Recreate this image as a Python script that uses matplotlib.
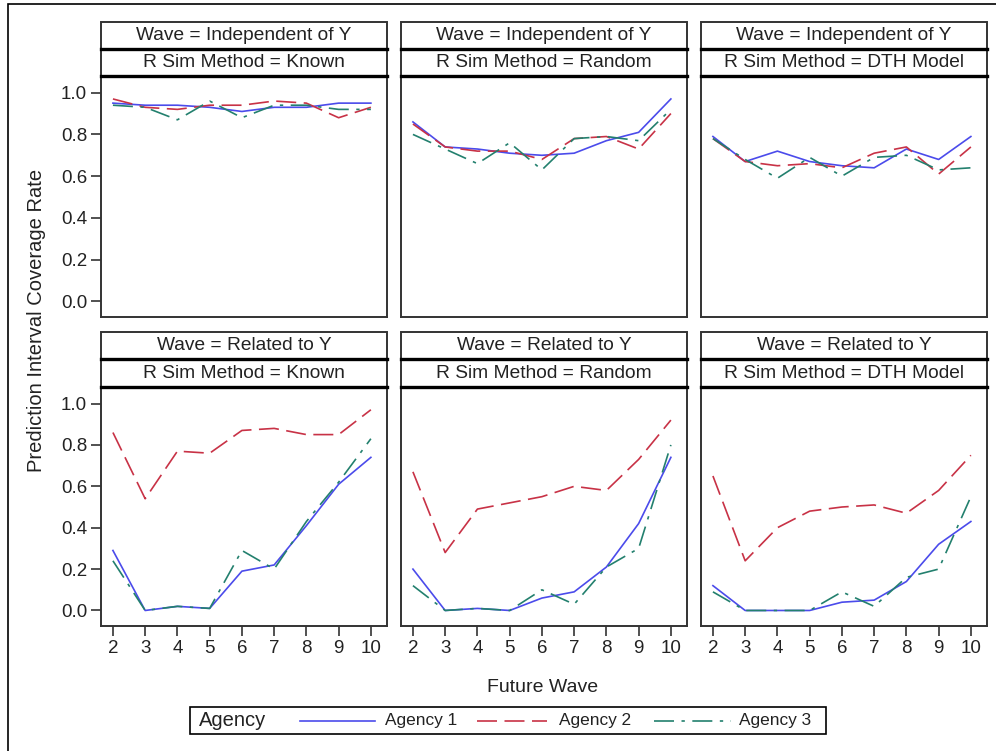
"""
Panel chart: prediction interval coverage rate vs future wave, by agency
Saves: out.png
"""

import matplotlib
matplotlib.use('Agg')
import matplotlib.pyplot as plt
from matplotlib.patches import Rectangle

matplotlib.rcParams['font.family'] = ['Liberation Sans', 'DejaVu Sans']

# ── data ──
waves = [2, 3, 4, 5, 6, 7, 8, 9, 10]
agencies = ['Agency 1', 'Agency 2', 'Agency 3']
wave_types = ['Independent of Y', 'Related to Y']
sim_methods = ['Known', 'Random', 'DTH Model']
y_ticks = [0.0, 0.2, 0.4, 0.6, 0.8, 1.0]

# Wave = Independent of Y
ind_known_a1 = [0.95, 0.94, 0.94, 0.93, 0.91, 0.93, 0.93, 0.95, 0.95]
ind_known_a2 = [0.97, 0.93, 0.92, 0.94, 0.94, 0.96, 0.95, 0.88, 0.93]
ind_known_a3 = [0.94, 0.93, 0.87, 0.96, 0.88, 0.94, 0.94, 0.92, 0.92]

ind_random_a1 = [0.86, 0.74, 0.73, 0.71, 0.70, 0.71, 0.77, 0.81, 0.97]
ind_random_a2 = [0.85, 0.74, 0.72, 0.72, 0.68, 0.78, 0.79, 0.73, 0.90]
ind_random_a3 = [0.80, 0.73, 0.66, 0.76, 0.63, 0.78, 0.79, 0.77, 0.92]

ind_dth_a1 = [0.79, 0.67, 0.72, 0.67, 0.65, 0.64, 0.73, 0.68, 0.79]
ind_dth_a2 = [0.78, 0.67, 0.65, 0.66, 0.64, 0.71, 0.74, 0.61, 0.74]
ind_dth_a3 = [0.78, 0.68, 0.59, 0.69, 0.60, 0.69, 0.70, 0.63, 0.64]

# Wave = Related to Y
rel_known_a1 = [0.29, 0.00, 0.02, 0.01, 0.19, 0.22, 0.41, 0.61, 0.74]
rel_known_a2 = [0.86, 0.54, 0.77, 0.76, 0.87, 0.88, 0.85, 0.85, 0.97]
rel_known_a3 = [0.24, 0.00, 0.02, 0.01, 0.29, 0.20, 0.43, 0.62, 0.83]

rel_random_a1 = [0.20, 0.00, 0.01, 0.00, 0.06, 0.09, 0.21, 0.42, 0.74]
rel_random_a2 = [0.67, 0.28, 0.49, 0.52, 0.55, 0.60, 0.58, 0.73, 0.92]
rel_random_a3 = [0.12, 0.00, 0.01, 0.00, 0.10, 0.03, 0.21, 0.30, 0.80]

rel_dth_a1 = [0.12, 0.00, 0.00, 0.00, 0.04, 0.05, 0.14, 0.32, 0.43]
rel_dth_a2 = [0.65, 0.24, 0.40, 0.48, 0.50, 0.51, 0.47, 0.58, 0.75]
rel_dth_a3 = [0.09, 0.00, 0.00, 0.00, 0.09, 0.02, 0.16, 0.20, 0.55]

panels = [
    [[ind_known_a1, ind_known_a2, ind_known_a3],
     [ind_random_a1, ind_random_a2, ind_random_a3],
     [ind_dth_a1, ind_dth_a2, ind_dth_a3]],
    [[rel_known_a1, rel_known_a2, rel_known_a3],
     [rel_random_a1, rel_random_a2, rel_random_a3],
     [rel_dth_a1, rel_dth_a2, rel_dth_a3]],
]

# ── styles ──
colors = ['#4B4BEB', '#C83246', '#23806E']
dashes = [(None, None), (12, 4.5), (12, 4.5, 2, 4.5)]
edge = '#333333'
txt_col = '#222222'

W, H = 996, 751
fig = plt.figure(figsize=(W / 100, H / 100), dpi=100)


def fx(px):
    return px / W


def fy(py):
    return 1 - py / H


# outer frame (cropped on the right/bottom in the reference)
fig.patches.append(Rectangle((fx(8), fy(1000)), fx(1100), fy(4) - fy(1000),
                             transform=fig.transFigure, fill=False,
                             edgecolor='black', linewidth=1.2))

col_x = [101, 401, 701]
col_w = 286
row_hdr = [(22, 48.5, 76), (332, 359, 387)]
row_bottom = [317, 626]

for r in range(2):
    top1, top2, plot_top = row_hdr[r]
    bottom = row_bottom[r]
    for c in range(3):
        x0 = col_x[c]
        ax = fig.add_axes([fx(x0), fy(bottom), fx(col_w), fy(plot_top) - fy(bottom)])
        for a, name in enumerate(agencies):
            line, = ax.plot(waves, panels[r][c][a], color=colors[a],
                            linewidth=1.2, label=name)
            if dashes[a][0] is not None:
                line.set_dashes(dashes[a])
        ax.set_xlim(1.63, 10.5)
        ax.set_ylim(-0.075, 1.08)
        ax.set_xticks(waves)
        ax.set_yticks(y_ticks)
        ax.set_yticklabels([f'{v:.1f}' for v in y_ticks])
        for s in ax.spines.values():
            s.set_color(edge)
            s.set_linewidth(1.4)
        ax.tick_params(axis='both', direction='out', length=7, width=1.2,
                       color=edge, labelsize=13.5, labelcolor=txt_col, pad=3)
        if c > 0:
            ax.tick_params(axis='y', left=False, labelleft=False)
        if r == 0:
            ax.tick_params(axis='x', bottom=False, labelbottom=False)

        # header strips
        headers = [(top1, top2, f'Wave = {wave_types[r]}'),
                   (top2, plot_top, f'R Sim Method = {sim_methods[c]}')]
        for (h0, h1, txt) in headers:
            fig.patches.append(Rectangle((fx(x0), fy(h1)), fx(col_w), fy(h0) - fy(h1),
                                         transform=fig.transFigure, facecolor='white',
                                         edgecolor=edge, linewidth=1.4))
            fig.text(fx(x0 + col_w / 2), fy((h0 + h1) / 2), txt, ha='center',
                     va='center', fontsize=13.8, color=txt_col)
        # thick separators
        for yy in (top2, plot_top):
            fig.add_artist(plt.Line2D([fx(x0), fx(x0 + col_w)], [fy(yy), fy(yy)],
                                      transform=fig.transFigure, color='black',
                                      linewidth=2.4))

fig.text(fx(37), fy(320), 'Prediction Interval Coverage Rate', rotation=90,
         ha='center', va='center', fontsize=14.5, color=txt_col)
fig.text(fx(543), fy(688), 'Future Wave', ha='center', va='center',
         fontsize=14, color=txt_col)

# ── legend ──
fig.patches.append(Rectangle((fx(190), fy(734)), fx(826 - 190), fy(707) - fy(734),
                             transform=fig.transFigure, facecolor='white',
                             edgecolor='black', linewidth=1.2))
fig.text(fx(199), fy(720.5), 'Agency', ha='left', va='center', fontsize=14.5,
         color=txt_col)
leg_lines = [(300, 375, 385), (477, 547, 559), (654, 731, 739)]
for a, (l0, l1, tx) in enumerate(leg_lines):
    ln = plt.Line2D([fx(l0), fx(l1)], [fy(720.5), fy(720.5)],
                    transform=fig.transFigure, color=colors[a], linewidth=1.2)
    if dashes[a][0] is not None:
        ln.set_dashes(dashes[a])
    fig.add_artist(ln)
    fig.text(fx(tx), fy(720.5), agencies[a], ha='left', va='center',
             fontsize=12.4, color=txt_col)

plt.savefig('out.png', dpi=100)
print("Saved: out.png")
